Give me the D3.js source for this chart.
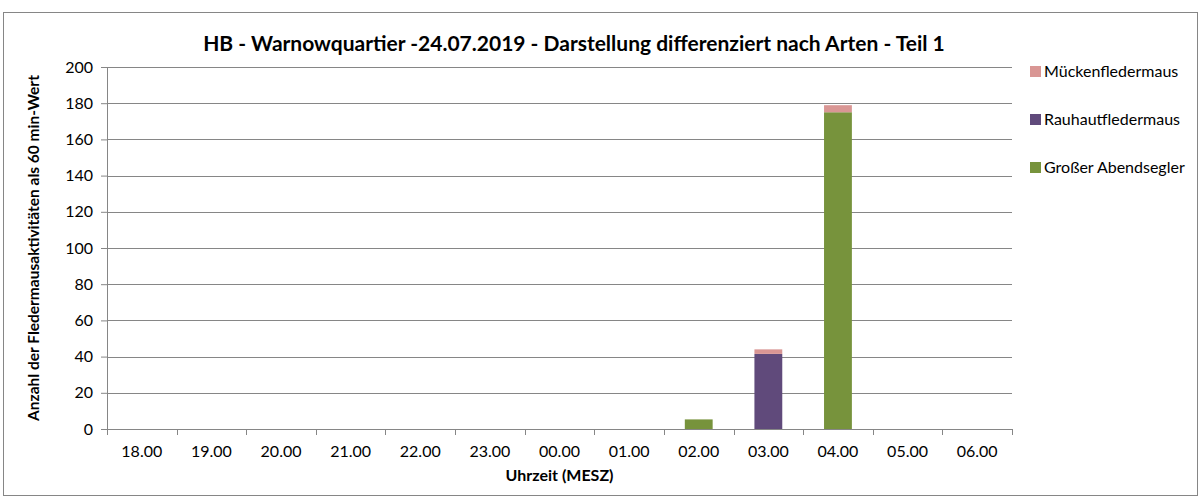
<!DOCTYPE html>
<html>
<head>
<meta charset="utf-8">
<script src="https://cdn.jsdelivr.net/npm/d3@7"></script>
<style>
  body { margin: 0; background: #fff; }
  text { font-family: Lato, "Open Sans", sans-serif; fill: #000; }
</style>
</head>
<body>
<script>
// data
const hours = ["18.00", "19.00", "20.00", "21.00", "22.00", "23.00", "00.00", "01.00", "02.00", "03.00", "04.00", "05.00", "06.00"];
const abendsegler = [0, 0, 0, 0, 0, 0, 0, 0, 5.3, 0, 175, 0, 0];
const rauhaut = [0, 0, 0, 0, 0, 0, 0, 0, 0, 41.5, 0, 0, 0];
const muecken = [0, 0, 0, 0, 0, 0, 0, 0, 0, 2.5, 3.9, 0, 0];
const yTicks = [0, 20, 40, 60, 80, 100, 120, 140, 160, 180, 200];

const species = [
    { key: "abendsegler", name: "Großer Abendsegler", color: "#77933C", values: abendsegler },
    { key: "rauhaut", name: "Rauhautfledermaus", color: "#604A7B", values: rauhaut },
    { key: "muecken", name: "Mückenfledermaus", color: "#D99694", values: muecken }
];

const W = 1204, H = 500;
const margin = { top: 67, right: 192, bottom: 71, left: 107 };
const w = W - margin.left - margin.right;
const h = H - margin.top - margin.bottom;

const svg = d3.select("body").append("svg")
    .attr("width", W)
    .attr("height", H);

// chart border
svg.append("rect")
    .attr("x", 3.5).attr("y", 12.5)
    .attr("width", 1194).attr("height", 483)
    .attr("fill", "#fff")
    .attr("stroke", "#868686");

const g = svg.append("g")
    .attr("transform", `translate(${margin.left},${margin.top})`);

const table = hours.map((hr, i) => {
    const row = { hour: hr };
    species.forEach(s => row[s.key] = s.values[i]);
    return row;
});

const stack = d3.stack().keys(species.map(s => s.key));
const series = stack(table);

const xScale = d3.scaleBand().domain(hours).range([0, w]).paddingInner(0.6).paddingOuter(0.3);
const xBound = d3.scaleLinear().domain([0, hours.length]).range([0, w]);
const yScale = d3.scaleLinear().domain([0, 200]).range([h, 0]);

// gridlines
g.selectAll(".grid")
    .data(yTicks.slice(1))
    .enter().append("line")
    .attr("x1", 0).attr("x2", w)
    .attr("y1", d => Math.round(yScale(d)) + 0.5)
    .attr("y2", d => Math.round(yScale(d)) + 0.5)
    .attr("stroke", "#868686")
    .attr("stroke-width", 1);

// bars
const color = d3.scaleOrdinal(species.map(s => s.key), species.map(s => s.color));
g.selectAll(".layer")
    .data(series)
    .enter().append("g")
    .attr("fill", d => color(d.key))
    .selectAll("rect")
    .data(d => d)
    .enter().append("rect")
    .attr("x", d => xScale(d.data.hour))
    .attr("width", xScale.bandwidth())
    .attr("y", d => yScale(d[1]))
    .attr("height", d => yScale(d[0]) - yScale(d[1]));

// y axis
const yAxis = d3.axisLeft(yScale).tickValues(yTicks).tickSize(6).tickPadding(8);
const ya = g.append("g").call(yAxis);
ya.select(".domain").attr("stroke", "#868686");
ya.selectAll(".tick line").attr("stroke", "#868686");
ya.selectAll(".tick text").style("font-size", "16px").style("font-family", "Lato, sans-serif");

// x axis
const xa = g.append("g").attr("transform", `translate(0,${h})`);
xa.append("line")
    .attr("x1", 0).attr("x2", w)
    .attr("y1", 0.5).attr("y2", 0.5)
    .attr("stroke", "#868686");
xa.selectAll(".xt")
    .data(d3.range(hours.length + 1))
    .enter().append("line")
    .attr("x1", d => Math.round(xBound(d)) + 0.5)
    .attr("x2", d => Math.round(xBound(d)) + 0.5)
    .attr("y1", 0).attr("y2", 6)
    .attr("stroke", "#868686");
xa.selectAll(".xl")
    .data(hours)
    .enter().append("text")
    .attr("x", d => xScale(d) + xScale.bandwidth() / 2)
    .attr("y", 28)
    .attr("text-anchor", "middle")
    .style("font-size", "16px")
    .text(d => d);

// title
svg.append("text")
    .attr("x", 574)
    .attr("y", 51)
    .attr("text-anchor", "middle")
    .style("font-size", "21px")
    .style("font-weight", "bold")
    .text("HB - Warnowquartier -24.07.2019 - Darstellung differenziert nach Arten - Teil 1");

// axis titles
svg.append("text")
    .attr("x", margin.left + w / 2)
    .attr("y", 481)
    .attr("text-anchor", "middle")
    .style("font-size", "16px")
    .style("font-weight", "bold")
    .text("Uhrzeit (MESZ)");

svg.append("text")
    .attr("transform", "translate(39,248) rotate(-90)")
    .attr("text-anchor", "middle")
    .style("font-size", "15.5px")
    .style("font-weight", "bold")
    .text("Anzahl der  Fledermausaktivitäten  als 60 min-Wert");

// legend
const legend = svg.selectAll(".legend")
    .data(species.slice().reverse())
    .enter().append("g")
    .attr("transform", (d, i) => `translate(1030,${71 + i * 48})`);
legend.append("rect")
    .attr("x", 0).attr("y", -5)
    .attr("width", 11).attr("height", 11)
    .attr("fill", d => d.color);
legend.append("text")
    .attr("x", 14)
    .attr("dy", "0.35em")
    .style("font-size", "16px")
    .text(d => d.name);
</script>
</body>
</html>
